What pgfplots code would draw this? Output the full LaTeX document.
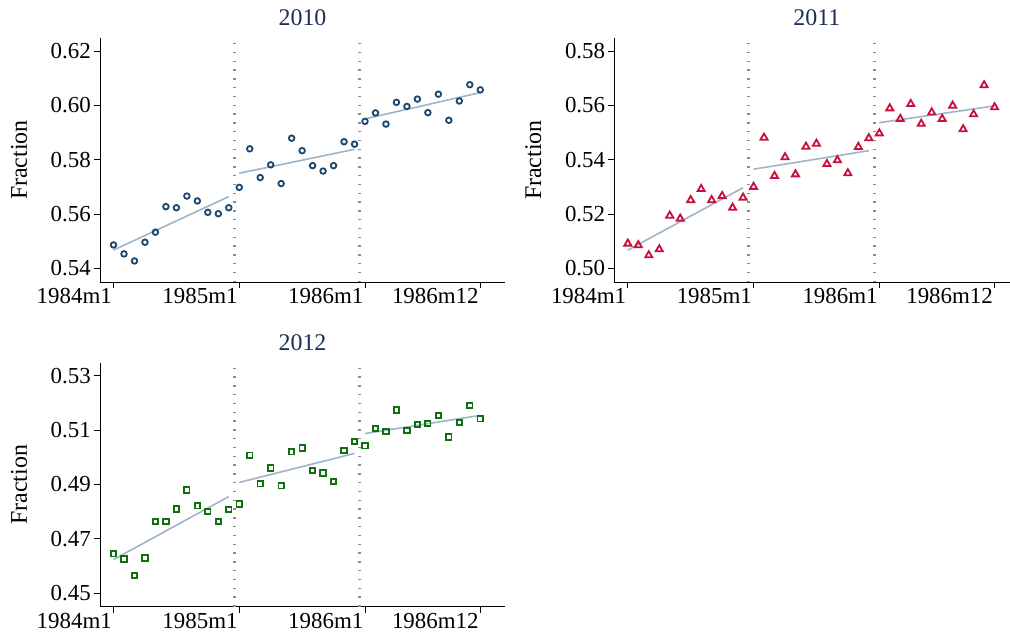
\documentclass[border=0pt]{standalone}
\usepackage{pgfplots}
\usepackage{pgfplotstable}
\pgfplotsset{compat=1.18}
\usepackage{fontspec}
\setmainfont{Liberation Serif}
\definecolor{navym}{RGB}{26,71,111}
\definecolor{cranb}{RGB}{200,16,60}
\definecolor{greenm}{RGB}{16,112,16}
\definecolor{fitc}{RGB}{160,180,200}
\definecolor{titlec}{RGB}{30,45,85}
\definecolor{xlinec}{RGB}{140,140,140}

\pgfplotstableread{
t y
0 0.5486
1 0.5453
2 0.5427
3 0.5496
4 0.5533
5 0.5627
6 0.5623
7 0.5666
8 0.5648
9 0.5606
10 0.5601
11 0.5623
12 0.5698
13 0.5840
14 0.5734
15 0.5781
16 0.5712
17 0.5879
18 0.5833
19 0.5778
20 0.5758
21 0.5778
22 0.5866
23 0.5857
24 0.5941
25 0.5972
26 0.5931
27 0.6011
28 0.5996
29 0.6023
30 0.5973
31 0.6041
32 0.5945
33 0.6016
34 0.6076
35 0.6057
}\dataA

\pgfplotstableread{
t y
0 0.5091
1 0.5085
2 0.5048
3 0.5070
4 0.5194
5 0.5183
6 0.5251
7 0.5292
8 0.5251
9 0.5266
10 0.5223
11 0.5260
12 0.5300
13 0.5481
14 0.5340
15 0.5409
16 0.5346
17 0.5448
18 0.5459
19 0.5384
20 0.5398
21 0.5350
22 0.5447
23 0.5479
24 0.5497
25 0.5589
26 0.5550
27 0.5605
28 0.5532
29 0.5574
30 0.5550
31 0.5599
32 0.5512
33 0.5567
34 0.5674
35 0.5593
}\dataB

\pgfplotstableread{
t y
0 0.4644
1 0.4625
2 0.4565
3 0.4629
4 0.4763
5 0.4763
6 0.4809
7 0.4879
8 0.4821
9 0.4800
10 0.4763
11 0.4808
12 0.4828
13 0.5007
14 0.4902
15 0.4960
16 0.4895
17 0.5020
18 0.5034
19 0.4951
20 0.4942
21 0.4910
22 0.5024
23 0.5058
24 0.5042
25 0.5106
26 0.5095
27 0.5174
28 0.5098
29 0.5120
30 0.5124
31 0.5153
32 0.5074
33 0.5128
34 0.5191
35 0.5141
}\dataC

\newcommand{\lblfont}{\fontsize{23}{27}\selectfont}
\pgfplotsset{
  panel/.style={
    scale only axis, width=405bp, height=243.7bp,
    xmin=-1.29, xmax=37.36,
    axis x line*=bottom, axis y line*=left,
    axis line style={-, line width=0.9bp, black},
    xtick={0,12,24,35}, xticklabels={1984m1,1985m1,1986m1,1986m12},
    tick align=outside, major tick length=6bp,
    tick style={black, line width=0.8bp},
    minor tick num=0,
    tick label style={font=\lblfont, inner sep=0pt},
    xticklabel style={anchor=north east, xshift=-1.5bp},
    yticklabel style={anchor=east, xshift=-3bp},
    ylabel={Fraction},
    every axis y label/.style={at={(axis description cs:0,0.5)}, xshift=-81bp, rotate=90, anchor=center, font=\fontsize{24}{28}\selectfont},
    every axis title/.style={at={(axis description cs:0.5,1)}, yshift=20.3bp, anchor=center, font=\fontsize{24}{28}\selectfont, text=titlec},
    clip=false,
  },
  fit/.style={color=fitc, line width=1.6bp, no marks},
  xl/.style={xlinec, line width=3bp, dash pattern=on 1.4bp off 7.4bp, no marks},
}

\begin{document}
\begin{tikzpicture}
\useasboundingbox (0,0) rectangle (1010bp,635bp);

% 2010
\begin{axis}[panel, at={(100bp,353bp)}, anchor=south west,
  title={2010}, ymin=0.53496, ymax=0.62468,
  ytick={0.54,0.56,0.58,0.60,0.62}, yticklabels={0.54,0.56,0.58,0.60,0.62}]
  \addplot[xl] coordinates {(11.5,0.53496) (11.5,0.62468)};
  \addplot[xl] coordinates {(23.5,0.53496) (23.5,0.62468)};
  \addplot[fit] coordinates {(0,0.5467) (11,0.5664)};
  \addplot[fit] coordinates {(12,0.5750) (23,0.5838)};
  \addplot[fit] coordinates {(24,0.5950) (35,0.6047)};
  \addplot[only marks, mark=o, mark size=2.8bp, navym, line width=1.8bp, mark options={fill=white}] table[x=t,y=y] {\dataA};
\end{axis}

% 2011
\begin{axis}[panel, at={(614.3bp,353bp)}, anchor=south west,
  title={2011}, ymin=0.49496, ymax=0.58468,
  ytick={0.50,0.52,0.54,0.56,0.58}, yticklabels={0.50,0.52,0.54,0.56,0.58}]
  \addplot[xl] coordinates {(11.5,0.49496) (11.5,0.58468)};
  \addplot[xl] coordinates {(23.5,0.49496) (23.5,0.58468)};
  \addplot[fit] coordinates {(0,0.5067) (11,0.5297)};
  \addplot[fit] coordinates {(12,0.5365) (23,0.5433)};
  \addplot[fit] coordinates {(24,0.5536) (35,0.5598)};
  \addplot[only marks, mark=triangle, mark size=4.1bp, cranb, line width=1.8bp, mark options={fill=white}] table[x=t,y=y] {\dataB};
\end{axis}

% 2012
\begin{axis}[panel, at={(100bp,28.3bp)}, anchor=south west,
  title={2012}, ymin=0.44496, ymax=0.53468,
  ytick={0.45,0.47,0.49,0.51,0.53}, yticklabels={0.45,0.47,0.49,0.51,0.53}]
  \addplot[xl] coordinates {(11.5,0.44496) (11.5,0.53468)};
  \addplot[xl] coordinates {(23.5,0.44496) (23.5,0.53468)};
  \addplot[fit] coordinates {(0,0.4623) (11,0.4855)};
  \addplot[fit] coordinates {(12,0.4907) (23,0.5014)};
  \addplot[fit] coordinates {(24,0.5087) (35,0.5154)};
  \addplot[only marks, mark=square, mark size=2.7bp, greenm, line width=1.8bp, mark options={fill=white}] table[x=t,y=y] {\dataC};
\end{axis}
\end{tikzpicture}
\end{document}
